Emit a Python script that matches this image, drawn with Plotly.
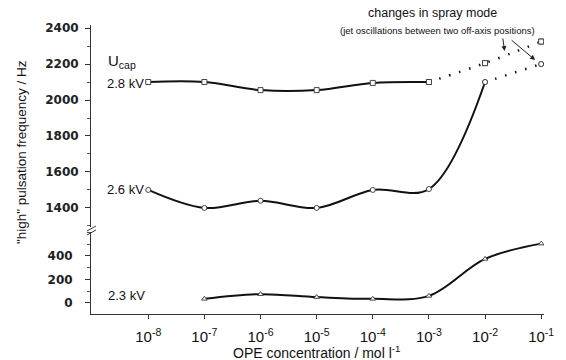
import plotly.graph_objects as go

# ---- data ----
conc = [1e-8, 1e-7, 1e-6, 1e-5, 1e-4, 1e-3, 1e-2, 1e-1]
f_28 = [2100, 2100, 2055, 2055, 2095, 2100, 2205, 2325]   # 2.8 kV (squares)
f_26 = [1500, 1400, 1440, 1400, 1500, 1505, 2100, 2200]   # 2.6 kV (circles)
conc_23 = [1e-7, 1e-6, 1e-5, 1e-4, 1e-3, 1e-2, 1e-1]
f_23 = [35, 75, 50, 35, 60, 375, 505]                     # 2.3 kV (triangles)

x_tickvals = [1e-8, 1e-7, 1e-6, 1e-5, 1e-4, 1e-3, 1e-2, 1e-1]
x_ticktext = ["10<sup>-8</sup>", "10<sup>-7</sup>", "10<sup>-6</sup>", "10<sup>-5</sup>",
              "10<sup>-4</sup>", "10<sup>-3</sup>", "10<sup>-2</sup>", "10<sup>-1</sup>"]
upper_ticks = [1400, 1600, 1800, 2000, 2200, 2400]
lower_ticks = [0, 200, 400]

n_solid_28 = 6   # solid up to 1e-3, dotted beyond
n_solid_26 = 7   # solid up to 1e-2, dotted beyond

LINE = "#111111"
MK = "#444444"
FONT = "Liberation Sans, Arial, sans-serif"
TICKFONT = dict(family="DejaVu Sans", size=12, color="#222222", weight="bold")
MSIZE = 5

fig = go.Figure()

def add_series(x, y, yaxis, symbol, dash, show_markers=True, width=2):
    fig.add_trace(go.Scatter(
        x=x, y=y, yaxis=yaxis,
        mode="lines+markers" if show_markers else "lines",
        line=dict(color=LINE, width=width, shape="spline", smoothing=1.0, dash=dash),
        marker=dict(symbol=symbol, size=MSIZE, color="white",
                    line=dict(color=MK, width=1)),
        showlegend=False, hoverinfo="x+y"))

# 2.8 kV
add_series(conc[n_solid_28 - 1:], f_28[n_solid_28 - 1:], "y2", "square", "1.5px,9px", width=2.5)
add_series(conc[:n_solid_28], f_28[:n_solid_28], "y2", "square", "solid")
fig.add_trace(go.Scatter(x=conc[n_solid_28:], y=f_28[n_solid_28:], yaxis="y2", mode="markers",
                         marker=dict(symbol="square", size=MSIZE, color="white", line=dict(color=MK, width=1)),
                         showlegend=False))
# 2.6 kV
add_series(conc[n_solid_26 - 1:], f_26[n_solid_26 - 1:], "y2", "circle", "1.5px,9px", width=2.5)
add_series(conc[:n_solid_26], f_26[:n_solid_26], "y2", "circle", "solid")
fig.add_trace(go.Scatter(x=conc[n_solid_26:], y=f_26[n_solid_26:], yaxis="y2", mode="markers",
                         marker=dict(symbol="circle", size=MSIZE, color="white", line=dict(color=MK, width=1)),
                         showlegend=False))
# 2.3 kV
add_series(conc_23, f_23, "y", "triangle-up", "solid")

axis_common = dict(showline=True, linecolor="#333333", linewidth=1, ticks="outside",
                   ticklen=5, tickcolor="#333333", showgrid=False, zeroline=False)

fig.update_layout(
    width=566, height=360,
    margin=dict(l=91, r=15, t=25, b=46),
    paper_bgcolor="white", plot_bgcolor="white",
    xaxis=dict(type="log", range=[-9.02, -0.95], tickvals=x_tickvals, ticktext=x_ticktext,
               tickfont=dict(family=FONT, size=15, color="#111111"), ticklen=4,
               ticklabelstandoff=5,
               **{k: v for k, v in axis_common.items() if k != "ticklen"}),
    yaxis=dict(domain=[0, 0.2837], range=[-94, 604], tickvals=lower_ticks,
               tickfont=TICKFONT, ticklabelstandoff=10,
               minor=dict(dtick=100, ticks="outside", ticklen=3, tickcolor="#555555"),
               **axis_common),
    yaxis2=dict(domain=[0.301, 1], range=[1294, 2417], tickvals=upper_ticks,
                tickfont=TICKFONT, anchor="x", ticklabelstandoff=4,
                minor=dict(dtick=100, ticks="outside", ticklen=3, tickcolor="#555555"),
                **axis_common),
)

def px_to_paper(px, py):
    return (px - 91) / 460, (314 - py) / 289

annotations = [
    dict(text="U<sub>cap</sub>", px=106, py=62, size=15, xanchor="left"),
    dict(text="2.8 kV", px=105, py=83, size=13, xanchor="left"),
    dict(text="2.6 kV", px=105, py=189, size=13, xanchor="left"),
    dict(text="2.3 kV", px=106, py=295, size=13, xanchor="left"),
    dict(text="changes in spray mode", px=438, py=13, size=12.5, xanchor="center"),
    dict(text="(jet oscillations between two off-axis positions)", px=443, py=31, size=9.5, xanchor="center"),
    dict(text="OPE concentration / mol l<sup>-1</sup>", px=320, py=352, size=14, xanchor="center"),
]
for a in annotations:
    xp, yp = px_to_paper(a["px"], a["py"])
    fig.add_annotation(text=a["text"], x=xp, y=yp, xref="paper", yref="paper",
                       xanchor=a["xanchor"], yanchor="middle", showarrow=False,
                       font=dict(family=FONT, size=a["size"], color="#111111"))

xp, yp = px_to_paper(20, 152)
fig.add_annotation(text='"high" pulsation frequency / Hz', x=xp, y=yp, xref="paper", yref="paper",
                   textangle=-90, showarrow=False, xanchor="center", yanchor="middle",
                   font=dict(family=FONT, size=13.5, color="#111111"))

# arrows
for (hx, hy, tx, ty) in [(511, 51, 509, 37), (542, 60, 517, 39)]:
    xp, yp = px_to_paper(hx, hy)
    fig.add_annotation(text="", x=xp, y=yp, xref="paper", yref="paper",
                       ax=tx - hx, ay=ty - hy, showarrow=True, arrowhead=2,
                       arrowsize=1, arrowwidth=1, arrowcolor="#222222")

# axis break marks
for (x0, y0, x1, y1) in [(87, 231, 96, 226), (87, 235, 96, 230)]:
    a0 = px_to_paper(x0, y0)
    a1 = px_to_paper(x1, y1)
    fig.add_shape(type="line", xref="paper", yref="paper", x0=a0[0], y0=a0[1],
                  x1=a1[0], y1=a1[1], line=dict(color="#333333", width=1))

fig.write_html("out.html")
